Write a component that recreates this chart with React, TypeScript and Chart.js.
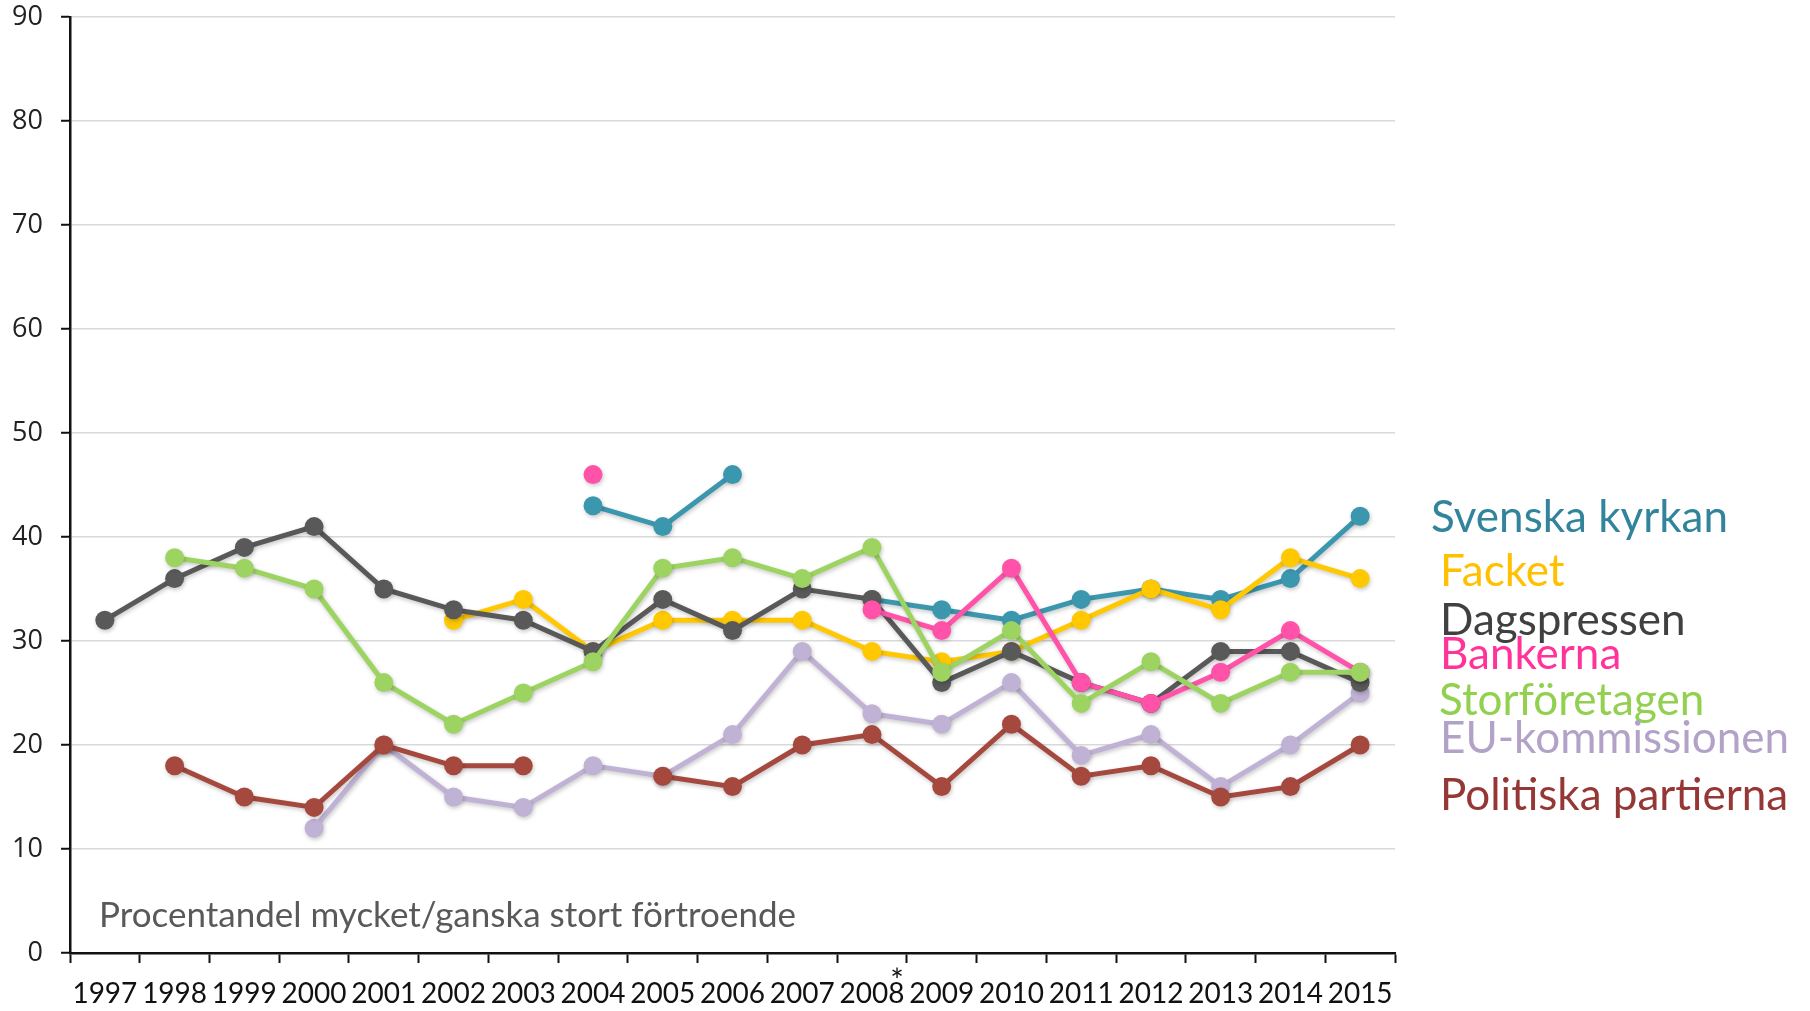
import React, { useEffect, useRef } from "react";
import { Chart, registerables } from "chart.js";

Chart.register(...registerables);

const years = ["1997","1998","1999","2000","2001","2002","2003","2004","2005","2006","2007","2008","2009","2010","2011","2012","2013","2014","2015"];

const svenskaKyrkan = [null,null,null,null,null,null,null,43,41,46,null,34,33,32,34,35,34,36,42];
const facket = [null,null,null,null,null,32,34,29,32,32,32,29,28,29,32,35,33,38,36];
const dagspressen = [32,36,39,41,35,33,32,29,34,31,35,34,26,29,26,24,29,29,26];
const bankerna = [null,null,null,null,null,null,null,46,null,null,null,33,31,37,26,24,27,31,27];
const storforetagen = [null,38,37,35,26,22,25,28,37,38,36,39,27,31,24,28,24,27,27];
const euKommissionen = [null,null,null,12,20,15,14,18,17,21,29,23,22,26,19,21,16,20,25];
const politiskaPartierna = [null,18,15,14,20,18,18,null,17,16,20,21,16,22,17,18,15,16,20];

const yTicks = { min: 0, max: 90, step: 10 };

const noteText = "Procentandel mycket/ganska stort förtroende";
const starYear = "2008";

const seriesNames = ["Svenska kyrkan","Facket","Dagspressen","Bankerna","Storföretagen","EU-kommissionen","Politiska partierna"];
const lineColors = ["#3B97AE","#FFC800","#595959","#FF52A8","#9DD461","#C0B2D4","#A5493F"];
const labelColors = ["#31849B","#FFC000","#404040","#FF3399","#92D050","#B3A2C7","#953735"];
// label placement (offset from plot right edge, baseline y)
const labelPlacement = [
  { dx: 36, y: 532 },
  { dx: 45, y: 586 },
  { dx: 45, y: 635 },
  { dx: 45, y: 669 },
  { dx: 44, y: 715 },
  { dx: 45, y: 753 },
  { dx: 45, y: 810 },
];

const textPlugin = {
  id: "extraTexts",
  afterDraw(chart: any) {
    const { ctx, chartArea, scales } = chart;
    ctx.save();
    ctx.textAlign = "left";
    ctx.textBaseline = "alphabetic";
    ctx.font = "44px Lato";
    seriesNames.forEach((t, i) => {
      ctx.fillStyle = labelColors[i];
      ctx.fillText(t, chartArea.right + labelPlacement[i].dx, labelPlacement[i].y);
    });
    ctx.font = "35px Lato";
    ctx.fillStyle = "#595959";
    ctx.fillText(noteText, chartArea.left + 29, chartArea.bottom - 26);
    ctx.font = "32px Lato";
    ctx.fillStyle = "#111";
    ctx.textAlign = "center";
    const sx = scales.x.getPixelForValue(years.indexOf(starYear)) + 25;
    ctx.fillText("*", sx, chartArea.bottom + 39);
    ctx.restore();
  },
};

const shadowPlugin = {
  id: "shadow",
  beforeDatasetsDraw(chart: any) {
    const ctx = chart.ctx;
    ctx.save();
    ctx.shadowColor = "rgba(0,0,0,0.22)";
    ctx.shadowBlur = 4;
    ctx.shadowOffsetX = 1;
    ctx.shadowOffsetY = 2;
  },
  afterDatasetsDraw(chart: any) {
    chart.ctx.restore();
  },
};

export default function App() {
  const ref = useRef<HTMLCanvasElement | null>(null);

  useEffect(() => {
    if (!ref.current) return;
    const series = [
      { name: seriesNames[6], data: politiskaPartierna, color: lineColors[6] },
      { name: seriesNames[4], data: storforetagen, color: lineColors[4] },
      { name: seriesNames[3], data: bankerna, color: lineColors[3] },
      { name: seriesNames[2], data: dagspressen, color: lineColors[2] },
      { name: seriesNames[1], data: facket, color: lineColors[1] },
      { name: seriesNames[0], data: svenskaKyrkan, color: lineColors[0] },
      { name: seriesNames[5], data: euKommissionen, color: lineColors[5] },
    ];
    const chart = new Chart(ref.current, {
      type: "line",
      data: {
        labels: years,
        datasets: series.map((s) => ({
          label: s.name,
          data: s.data,
          borderColor: s.color,
          backgroundColor: s.color,
          pointBackgroundColor: s.color,
          pointBorderColor: s.color,
          pointBorderWidth: 0,
          pointRadius: 9.5,
          borderWidth: 5,
          tension: 0,
          spanGaps: false,
          fill: false,
        })),
      },
      options: {
        responsive: false,
        animation: false,
        devicePixelRatio: 1,
        layout: { padding: { left: 0, top: 17, right: 415, bottom: 0 } },
        plugins: { legend: { display: false }, tooltip: { enabled: false } },
        scales: {
          x: {
            type: "category",
            offset: true,
            afterFit: (s: any) => {
              s.height = 58;
              s.paddingLeft = 0;
              s.paddingRight = 0;
            },
            grid: {
              display: true,
              drawOnChartArea: false,
              offset: true,
              drawTicks: true,
              tickLength: 10,
              tickColor: "#111",
              tickWidth: 2,
            },
            border: { display: true, color: "#111", width: 2.5 },
            ticks: {
              autoSkip: false,
              maxRotation: 0,
              minRotation: 0,
              padding: 14,
              color: "#111",
              font: { family: "Lato", size: 28 },
            },
          },
          y: {
            min: yTicks.min,
            max: yTicks.max,
            afterFit: (s: any) => {
              s.width = 70;
              s.paddingTop = 0;
              s.paddingBottom = 0;
            },
            grid: {
              color: "#d9d9d9",
              lineWidth: 1.5,
              drawTicks: true,
              tickLength: 9,
              tickColor: "#111",
              tickWidth: 2,
            },
            border: { display: true, color: "#111", width: 2.5 },
            ticks: {
              stepSize: yTicks.step,
              padding: 18,
              color: "#222",
              font: { family: "'Open Sans'", size: 27 },
            },
          },
        },
      },
      plugins: [shadowPlugin, textPlugin],
    });
    return () => chart.destroy();
  }, []);

  return (
    <div style={{ position: "absolute", left: 0, top: 0, width: 1810, height: 1011, background: "#fff" }}>
      <canvas ref={ref} width={1810} height={1011} style={{ width: 1810, height: 1011, display: "block" }} />
    </div>
  );
}
